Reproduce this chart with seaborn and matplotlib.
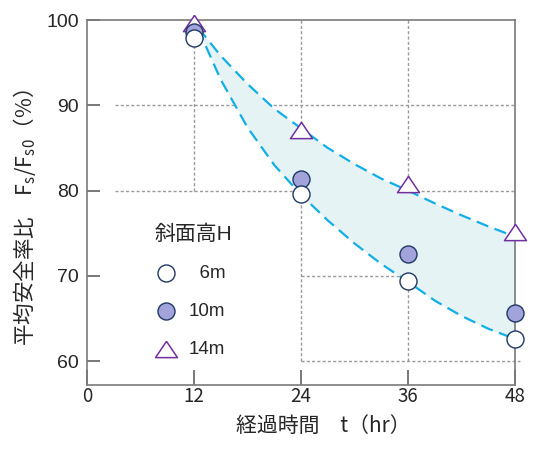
import matplotlib
matplotlib.use("Agg")
import matplotlib.pyplot as plt
import matplotlib.transforms as mtransforms
import seaborn as sns
import pandas as pd

# ---------------- data ----------------
hours = [12, 24, 36, 48]
fs_6m = [97.9, 79.6, 69.4, 62.6]
fs_10m = [98.6, 81.4, 72.6, 65.7]
fs_14m = [99.7, 87.1, 80.8, 75.1]
series_labels = ["  6m", "10m", "14m"]
legend_title = "斜面高H"

# envelope curves
curve_t = [12.5, 13, 15, 18, 21, 24, 27, 30, 33, 36, 39, 42, 45, 48]
upper_curve = [99.1, 98.4, 95.8, 92.5, 89.6, 87.3, 85.0, 83.1, 81.4, 80.0, 78.5, 77.1, 75.8, 74.6]
lower_curve = [99.0, 97.7, 93.0, 87.4, 83.0, 79.5, 76.5, 73.8, 71.4, 69.3, 67.1, 65.3, 63.8, 62.6]

x_ticks = [0, 12, 24, 36, 48]
y_ticks = [60, 70, 80, 90, 100]
x_label = "経過時間　t（hr）"
y_label = "平均安全率比　F$_\\mathregular{s}$/F$_\\mathregular{s0}$（%）"

# ---------------- style ----------------
sns.set_style("white")
plt.rcParams.update({
    "font.family": ["Liberation Sans", "Noto Sans CJK JP", "DejaVu Sans"],
    "mathtext.default": "regular",
    "axes.axisbelow": False,
})

GRAY = "#7a7a7a"
GRID = "#9a9a9a"
LINE = "#12aee8"
FILL = "#e5f3f5"
NAVY = "#1f3864"
PURPLE = "#7030a0"
LAV = "#a3a3dc"

fig = plt.figure(figsize=(5.35, 4.5), dpi=100)
ax = fig.add_axes([87 / 535, 65 / 450, 428 / 535, 365 / 450])
ax.set_xlim(0, 48)
ax.set_ylim(57.2, 100)

# partial dotted grid
gs = dict(color=GRID, lw=1.0, ls=(0, (2.2, 1.6)), zorder=1)
ax.plot([3.1, 48], [90, 90], **gs)
ax.plot([3.1, 48], [80, 80], **gs)
ax.plot([24, 48], [70, 70], **gs)
ax.plot([24, 48.6], [60, 60], clip_on=False, **gs)
ax.plot([12, 12], [80, 100], **gs)
ax.plot([24, 24], [60, 100], **gs)
ax.plot([36, 36], [60, 100], **gs)

# envelope
curves = pd.DataFrame({"t": curve_t, "upper": upper_curve, "lower": lower_curve})
ax.fill_between(curves["t"], curves["lower"], curves["upper"], color=FILL, lw=0, zorder=2)
sns.lineplot(data=curves, x="t", y="upper", ax=ax, color=LINE, lw=1.6,
             linestyle=(0, (5.6, 3.0)), zorder=3, legend=False)
sns.lineplot(data=curves, x="t", y="lower", ax=ax, color=LINE, lw=1.6,
             linestyle=(0, (5.6, 3.0)), zorder=3, legend=False)

# markers
tri = [(0, 0.74), (-1, -0.74), (1, -0.74), (0, 0.74)]
sns.scatterplot(x=hours, y=fs_14m, ax=ax, marker=tri, s=250, color="white",
                edgecolor=PURPLE, linewidth=1.1, zorder=4, label=series_labels[2],
                clip_on=False)
sns.scatterplot(x=hours, y=fs_10m, ax=ax, marker="o", s=150, color=LAV,
                edgecolor=NAVY, linewidth=1.0, zorder=5, label=series_labels[1],
                clip_on=False)
sns.scatterplot(x=hours, y=fs_6m, ax=ax, marker="o", s=150, color="white",
                edgecolor=NAVY, linewidth=1.0, zorder=6, label=series_labels[0],
                clip_on=False)

# legend
h, l = ax.get_legend_handles_labels()
order = [l.index(s) for s in series_labels]
leg = ax.legend([h[i] for i in order], [l[i] for i in order], title=legend_title,
                loc="upper left", bbox_to_anchor=(0.137, 0.464), frameon=False,
                fontsize=13.5, title_fontsize=15, labelspacing=1.1,
                handletextpad=0.6, borderpad=0, handlelength=1.2)
leg._legend_box.align = "left"

# axes styling
ax.set_xticks(x_ticks)
ax.set_yticks(y_ticks)
ax.set_axisbelow(False)
ax.tick_params(axis="both", bottom=True, left=True, direction="in",
               width=1.3, color=GRAY)
ax.tick_params(axis="y", length=9.5, labelsize=14, pad=6)
ax.tick_params(axis="x", length=11, labelsize=13.5, pad=1)

# inward tick marks drawn explicitly as well (axis-fraction offsets)
bx = mtransforms.blended_transform_factory(ax.transData, ax.transAxes)
by = mtransforms.blended_transform_factory(ax.transAxes, ax.transData)
ax.vlines(x_ticks, 0, 15 / 365, transform=bx, color=GRAY, lw=1.3, zorder=8, clip_on=False)
ax.hlines(y_ticks, 0, 13 / 428, transform=by, color=GRAY, lw=1.3, zorder=8, clip_on=False)

for lbl in ax.get_xticklabels():
    lbl.set_fontfamily(["Noto Sans CJK JP", "DejaVu Sans"])
for sp in ax.spines.values():
    sp.set_color(GRAY)
    sp.set_linewidth(1.2)

ax.set_xlabel(x_label, fontsize=15, family=["Noto Sans CJK JP", "DejaVu Sans"], va="center")
ax.xaxis.set_label_coords(0.553, -0.112)
ax.set_ylabel(y_label, fontsize=15.5, family=["Noto Sans CJK JP", "DejaVu Sans"], va="center")
ax.yaxis.set_label_coords(-0.145, 0.4575)

fig.savefig("out.png", dpi=100)
